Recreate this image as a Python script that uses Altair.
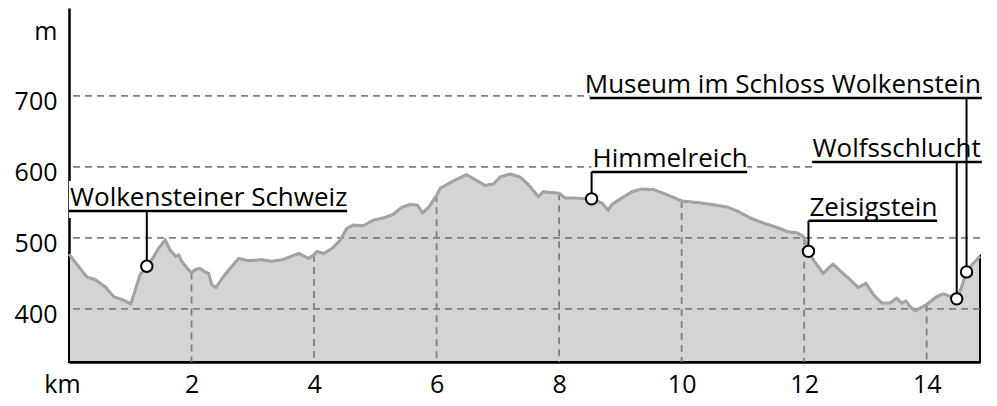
import altair as alt
import pandas as pd

# ---- elevation profile (km, m) ----
KM = [0.00, 0.29, 0.43, 0.59, 0.73, 0.87, 1.01, 1.16, 1.27, 1.35,
      1.46, 1.57, 1.65, 1.74, 1.79, 1.84, 1.93, 2.00, 2.06, 2.14,
      2.22, 2.28, 2.33, 2.40, 2.50, 2.61, 2.77, 2.91, 3.15, 3.31,
      3.48, 3.75, 3.91, 4.00, 4.05, 4.16, 4.29, 4.43, 4.53, 4.64,
      4.80, 4.97, 5.13, 5.29, 5.43, 5.57, 5.69, 5.77, 5.87, 6.00,
      6.06, 6.27, 6.49, 6.63, 6.79, 6.93, 7.04, 7.20, 7.36, 7.50,
      7.66, 7.74, 8.00, 8.10, 8.29, 8.53, 8.70, 8.80, 8.86, 9.02,
      9.19, 9.35, 9.54, 9.76, 10.00, 10.25, 10.49, 10.76, 10.93, 11.12,
      11.33, 11.55, 11.72, 11.88, 11.96, 12.00, 12.07, 12.15, 12.31, 12.47,
      12.61, 12.75, 12.88, 13.01, 13.13, 13.27, 13.40, 13.51, 13.59, 13.66,
      13.73, 13.81, 14.00, 14.16, 14.27, 14.41, 14.49, 14.57, 14.65, 14.74,
      14.87]
ELEV = [477, 445, 441, 431, 417, 413, 407, 448, 460, 469,
        485, 497, 483, 474, 476, 467, 457, 451, 455, 457,
        452, 450, 434, 430, 443, 455, 471, 468, 469, 467,
        469, 478, 471, 476, 481, 478, 485, 497, 513, 518,
        517, 525, 528, 533, 543, 547, 546, 535, 543, 560,
        570, 580, 589, 582, 574, 576, 586, 590, 586, 575,
        558, 565, 563, 556, 556, 555, 549, 539, 547, 556,
        565, 569, 568, 561, 552, 550, 547, 543, 537, 528,
        521, 515, 509, 507, 504, 500, 481, 469, 450, 463,
        452, 441, 430, 436, 420, 408, 408, 415, 408, 411,
        403, 397, 406, 417, 421, 417, 414, 431, 452, 462,
        474]

# ---- axes ----
X_TICKS = [0, 2, 4, 6, 8, 10, 12, 14]
Y_TICKS = [400, 500, 600, 700, 800]
Y_GRID = [400, 500, 600, 700]
X_MAX = 14.87
Y_MIN, Y_MAX = 325, 824

# ---- points of interest ----
POI_NAME = ["Wolkensteiner Schweiz", "Himmelreich", "Zeisigstein",
            "Wolfsschlucht", "Museum im Schloss Wolkenstein"]
POI_KM = [1.27, 8.53, 12.07, 14.49, 14.65]
POI_ELEV = [460, 555, 481, 414, 452]
# label underline: start km, end km, elevation; text alignment
LBL_X1 = [0.00, 8.53, 12.07, 12.13, 8.50]
LBL_X2 = [4.54, 11.07, 14.17, 14.90, 14.90]
LBL_Y = [538, 593, 524, 607, 697]
LBL_ALIGN = ["left", "left", "left", "right", "right"]

FONT = "Open Sans"

profile = pd.DataFrame({"km": KM, "elev": ELEV})
poi = pd.DataFrame({
    "name": POI_NAME, "km": POI_KM, "elev": POI_ELEV,
    "x1": LBL_X1, "x2": LBL_X2, "ly": LBL_Y, "align": LBL_ALIGN,
})
poi["tx"] = [a if al == "left" else b for a, b, al in zip(LBL_X1, LBL_X2, LBL_ALIGN)]
grid_h = pd.DataFrame({"v": Y_GRID})

xs = alt.Scale(domain=[0, X_MAX], nice=False, zero=False)
ys = alt.Scale(domain=[Y_MIN, Y_MAX], nice=False, zero=False)

x_axis = alt.Axis(
    values=X_TICKS, title=None, grid=False, ticks=False, tickSize=0,
    domainColor="black", domainWidth=2.5, labelFlush=False,
    labelExpr="datum.value == 0 ? 'km' : datum.label",
    labelOffset={"condition": {"test": "datum.value == 0", "value": -7}, "value": 0},
    labelFont=FONT, labelFontSize=25, labelColor="black",
    labelBaseline="alphabetic", labelPadding=30,
)
y_axis = alt.Axis(
    values=Y_TICKS, title=None, grid=False, ticks=False, tickSize=0,
    domainColor="black", domainWidth=2.5, labelFlush=False,
    labelExpr="datum.value == 800 ? 'm' : datum.label",
    labelFont=FONT, labelFontSize=25, labelColor="black",
    labelBaseline="alphabetic", labelOffset=14, labelPadding=12,
)


def X(field):
    return alt.X(field, type="quantitative", scale=xs, axis=x_axis)


def Y(field):
    return alt.Y(field, type="quantitative", scale=ys, axis=y_axis)


area = alt.Chart(profile).mark_area(
    color="#d4d4d4", stroke="black", strokeWidth=2
).encode(x=X("km"), y=Y("elev"), y2=alt.datum(Y_MIN))

hgrid = alt.Chart(grid_h).mark_rule(
    color="#808080", strokeWidth=1.8, strokeDash=[7, 5]
).encode(y=Y("v"))

vgrid = alt.Chart(profile).mark_rule(
    color="#808080", strokeWidth=1.8, strokeDash=[7, 5]
).transform_filter(
    alt.FieldOneOfPredicate(field="km", oneOf=[2.0, 4.0, 6.0, 8.0, 10.0, 12.0, 14.0])
).encode(x=X("km"), y=Y("elev"), y2=alt.datum(Y_MIN))

line = alt.Chart(profile).mark_line(
    color="#a3a3a3", strokeWidth=3, strokeJoin="round"
).encode(x=X("km"), y=Y("elev"))

boxes = alt.Chart(poi).mark_rect(
    color="white", yOffset=7, y2Offset=-30
).encode(x=X("x1"), x2="x2:Q", y=Y("ly"), y2="ly:Q")

underline = alt.Chart(poi).mark_rule(color="black", strokeWidth=2.5).encode(
    x=X("x1"), x2="x2:Q", y=Y("ly")
)

leader = alt.Chart(poi).mark_rule(color="black", strokeWidth=2).encode(
    x=X("km"), y=Y("elev"), y2="ly:Q"
)

points = alt.Chart(poi).mark_point(
    shape="circle", filled=True, fill="white", stroke="black",
    strokeWidth=2, size=130, opacity=1
).encode(x=X("km"), y=Y("elev"))

text_left = alt.Chart(poi).transform_filter(alt.datum.align == "left").mark_text(
    align="left", baseline="alphabetic", dx=1, dy=-5,
    font=FONT, fontSize=26, color="black"
).encode(x=X("tx"), y=Y("ly"), text="name:N")

text_right = alt.Chart(poi).transform_filter(alt.datum.align == "right").mark_text(
    align="right", baseline="alphabetic", dx=-1, dy=-5,
    font=FONT, fontSize=26, color="black"
).encode(x=X("tx"), y=Y("ly"), text="name:N")

chart = alt.layer(
    area, hgrid, vgrid, line, boxes, underline, leader, points, text_left, text_right
).properties(
    width=911, height=354,
    background="white",
    autosize=alt.AutoSizeParams(type="none"),
    padding={"left": 61, "top": 0, "right": 5, "bottom": 38},
).configure_view(strokeWidth=0)

chart.save("out.html", embed_options={"renderer": "svg", "actions": False})
